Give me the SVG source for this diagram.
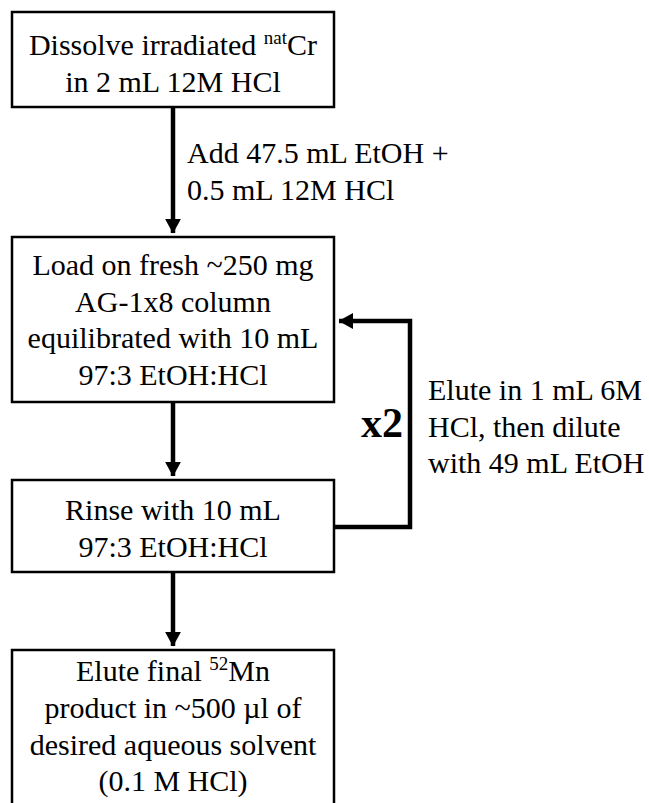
<svg xmlns="http://www.w3.org/2000/svg" width="649" height="803" viewBox="0 0 649 803">
<style>
.box{fill:#fff;stroke:#000;stroke-width:2.5}
.t{font-family:"Liberation Serif","Times New Roman",serif;font-size:30px;fill:#000}
.c{text-anchor:middle}
.sup{font-size:19px}
.conn{fill:none;stroke:#000;stroke-width:4.5}
.b{font-weight:bold;font-size:42px}
</style>
<defs>
<marker id="ah" markerWidth="4" markerHeight="4" refX="3.2" refY="2" orient="auto" markerUnits="strokeWidth" viewBox="0 0 4 4">
<path d="M0,0.2 L3.3,2 L0,3.8 Z" fill="#000"/>
</marker>
</defs>
<rect width="649" height="803" fill="#fff"/>
<g id="connectors">
<line class="conn" x1="173" y1="108" x2="173" y2="233" marker-end="url(#ah)"/>
<line class="conn" x1="173" y1="403" x2="173" y2="476" marker-end="url(#ah)"/>
<line class="conn" x1="173" y1="573" x2="173" y2="646" marker-end="url(#ah)"/>
<polyline class="conn" points="335,527 410,527 410,321 339,321" marker-end="url(#ah)"/>
<text class="t" x="187" y="163">Add 47.5 mL EtOH +</text>
<text class="t" x="187" y="200">0.5 mL 12M HCl</text>
<text class="t b" x="361" y="437">x2</text>
<text class="t" x="428" y="400">Elute in 1 mL 6M</text>
<text class="t" x="428" y="437">HCl, then dilute</text>
<text class="t" x="428" y="473">with 49 mL EtOH</text>
</g>
<g id="node1">
<rect class="box" x="12" y="12" width="322" height="95"/>
<text class="t c" x="173" y="55">Dissolve irradiated <tspan class="sup" dy="-11">nat</tspan><tspan dy="11">Cr</tspan></text>
<text class="t c" x="173" y="92">in 2 mL 12M HCl</text>
</g>
<g id="node2">
<rect class="box" x="12" y="237" width="322" height="165"/>
<text class="t c" x="173" y="275">Load on fresh ~250 mg</text>
<text class="t c" x="173" y="312">AG-1x8 column</text>
<text class="t c" x="173" y="348">equilibrated with 10 mL</text>
<text class="t c" x="173" y="385">97:3 EtOH:HCl</text>
</g>
<g id="node3">
<rect class="box" x="12" y="480" width="322" height="92"/>
<text class="t c" x="173" y="520">Rinse with 10 mL</text>
<text class="t c" x="173" y="557">97:3 EtOH:HCl</text>
</g>
<g id="node4">
<rect class="box" x="12" y="650" width="322" height="170"/>
<text class="t c" x="173" y="681">Elute final <tspan class="sup" dy="-11">52</tspan><tspan dy="11">Mn</tspan></text>
<text class="t c" x="173" y="718">product in ~500 µl of</text>
<text class="t c" x="173" y="755">desired aqueous solvent</text>
<text class="t c" x="173" y="791">(0.1 M HCl)</text>
</g>
</svg>
